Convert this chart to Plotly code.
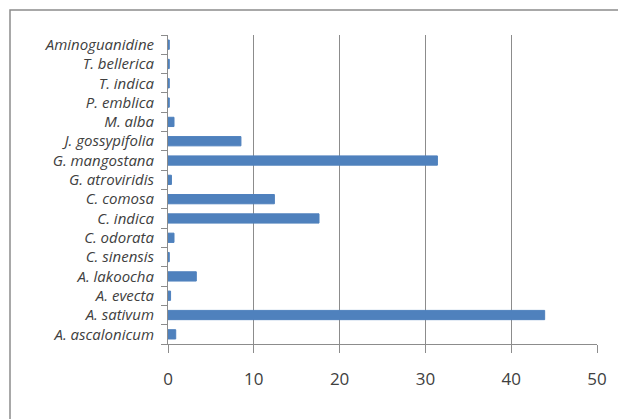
import plotly.graph_objects as go

categories = ["A. ascalonicum", "A. sativum", "A. evecta", "A. lakoocha", "C. sinensis",
              "C. odorata", "C. indica", "C. comosa", "G. atroviridis", "G. mangostana",
              "J. gossypifolia", "M. alba", "P. emblica", "T. indica", "T. bellerica",
              "Aminoguanidine"]
values = [0.9, 43.9, 0.3, 3.3, 0.15, 0.7, 17.6, 12.4, 0.4, 31.4, 8.5, 0.7, 0.15, 0.15, 0.15, 0.15]
x_ticks = [0, 10, 20, 30, 40, 50]

W, H = 618, 419
L, R, T, B = 168, 21, 35, 75
pw, ph = W - L - R, H - T - B

fig = go.Figure(go.Bar(
    x=values, y=categories, orientation="h",
    marker=dict(color="#4F81BD", line=dict(color="#4F81BD", width=1)),
    width=0.48,
))

fig.update_layout(
    width=W, height=H,
    margin=dict(l=L, r=R, t=T, b=B, pad=0, autoexpand=False),
    paper_bgcolor="white", plot_bgcolor="white",
    showlegend=False,
    font=dict(family="Open Sans", color="#404040"),
    xaxis=dict(
        range=[0, 50], tickvals=x_ticks, ticktext=[str(v) for v in x_ticks],
        showgrid=True, gridcolor="#8c8c8c", gridwidth=1,
        showline=True, linecolor="#8c8c8c", linewidth=1,
        ticks="outside", ticklen=8, tickcolor="#8c8c8c",
        tickfont=dict(size=17, color="#404040", family="Open Sans"),
        ticklabelstandoff=12,
        zeroline=False, fixedrange=True, automargin=False,
    ),
    yaxis=dict(
        type="category", categoryorder="array", categoryarray=categories,
        range=[-0.5, len(categories) - 0.5],
        showline=True, linecolor="#8c8c8c", linewidth=1,
        ticks="outside", ticklen=6, tickcolor="#8c8c8c", tickson="boundaries",
        tickfont=dict(size=15, color="#404040", family="Open Sans"),
        ticklabelstandoff=10,
        showgrid=False, zeroline=False, automargin=False, fixedrange=True,
    ),
    shapes=[dict(
        type="rect", xref="paper", yref="paper",
        x0=(10 - L) / pw, x1=(W + 5 - L) / pw,
        y0=(H - B - (H + 5)) / ph, y1=(H - B - 10) / ph,
        line=dict(color="#8c8c8c", width=1.5), fillcolor="rgba(0,0,0,0)",
        layer="below",
    )],
)

fig.update_yaxes(ticktext=["<i>%s</i>" % c for c in categories], tickvals=categories)

fig.write_html("out.html", config={"displayModeBar": False},
               post_script="document.body.style.margin='0';document.body.style.overflow='hidden';")
